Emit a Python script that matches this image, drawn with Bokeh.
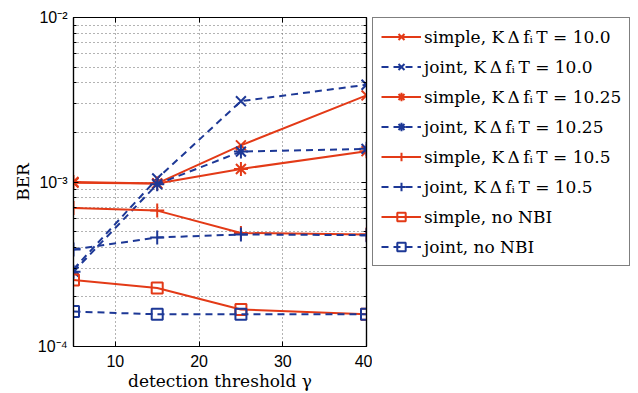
from bokeh.plotting import figure
from bokeh.layouts import row
from bokeh.models import (Legend, LegendItem, LogAxis, LinearAxis, FixedTicker,
                          CustomJSTickFormatter, Range1d)
from bokeh.embed import file_html
from bokeh.resources import INLINE

# ---- data ----
gamma = [5, 15, 25, 40]
simple_100 = [0.99e-3, 0.98e-3, 1.67e-3, 3.36e-3]
joint_100 = [2.95e-4, 1.05e-3, 3.1e-3, 3.9e-3]
simple_1025 = [1.0e-3, 0.98e-3, 1.2e-3, 1.54e-3]
joint_1025 = [2.85e-4, 0.97e-3, 1.53e-3, 1.59e-3]
simple_105 = [6.96e-4, 6.7e-4, 4.9e-4, 4.8e-4]
joint_105 = [3.89e-4, 4.6e-4, 4.8e-4, 4.75e-4]
simple_nonbi = [2.54e-4, 2.27e-4, 1.68e-4, 1.57e-4]
joint_nonbi = [1.63e-4, 1.57e-4, 1.57e-4, 1.57e-4]

x_ticks = [10, 20, 30, 40]
y_major = [1e-4, 1e-3, 1e-2]
y_minor = [m * 10.0 ** e for e in (-4, -3) for m in range(2, 10)]

MATH = "K\u2009\u0394\u2009f\u1d62\u2009T"
labels = ["simple, " + MATH + " = 10.0", "joint, " + MATH + " = 10.0",
          "simple, " + MATH + " = 10.25", "joint, " + MATH + " = 10.25",
          "simple, " + MATH + " = 10.5", "joint, " + MATH + " = 10.5",
          "simple, no NBI", "joint, no NBI"]

RED = "#e33a17"
BLUE = "#1d3896"
SERIF = "DejaVu Serif"
SANS = "Liberation Sans"

p = figure(width=372, height=393, y_axis_type="log",
           x_range=Range1d(5, 40), y_range=Range1d(1e-4, 1e-2),
           output_backend="svg", toolbar_location=None,
           min_border_left=73, min_border_top=17, min_border_bottom=47,
           min_border_right=6)
p.outline_line_color = "black"
p.outline_line_width = 1.2

fmt = CustomJSTickFormatter(code="""
const e = Math.round(Math.log10(tick));
const s = {'-4':'\u207b\u2074','-3':'\u207b\u00b3','-2':'\u207b\u00b2'};
return '10' + s[String(e)];
""")

for ax in (p.xaxis[0], p.yaxis[0]):
    ax.major_tick_in = 5
    ax.major_tick_out = 0
    ax.minor_tick_in = 3
    ax.minor_tick_out = 0
    ax.axis_line_color = "black"
    ax.axis_line_width = 1.2
    ax.major_label_text_font = SANS
    ax.major_label_text_font_size = "16px"
    ax.major_label_text_color = "black"
    ax.axis_label_text_font = SERIF
    ax.axis_label_text_font_style = "normal"
    ax.axis_label_text_font_size = "17px"
    ax.axis_label_text_color = "black"

p.xaxis[0].ticker = FixedTicker(ticks=x_ticks)
p.xaxis[0].minor_tick_in = 0
p.xaxis[0].major_label_standoff = 8
p.xaxis[0].axis_label = "detection threshold \u03b3"
p.xaxis[0].axis_label_standoff = 1
p.yaxis[0].ticker = FixedTicker(ticks=y_major, minor_ticks=y_minor)
p.yaxis[0].formatter = fmt
p.yaxis[0].major_label_standoff = 6
p.yaxis[0].axis_label = "BER"
p.yaxis[0].axis_label_standoff = 2

blank = CustomJSTickFormatter(code="return '';")
top = LinearAxis(ticker=FixedTicker(ticks=x_ticks), formatter=blank,
                 major_tick_in=5, major_tick_out=0, minor_tick_in=0, minor_tick_out=0,
                 axis_line_width=1.2, major_label_text_font_size="1px",
                 major_label_standoff=0)
right = LogAxis(ticker=FixedTicker(ticks=y_major, minor_ticks=y_minor), formatter=blank,
                major_tick_in=5, major_tick_out=0, minor_tick_in=3, minor_tick_out=0,
                axis_line_width=1.2, major_label_text_font_size="1px",
                major_label_standoff=0)
p.add_layout(top, "above")
p.add_layout(right, "right")

p.xgrid.ticker = FixedTicker(ticks=x_ticks)
p.ygrid.ticker = FixedTicker(ticks=y_major, minor_ticks=y_minor)
for g in (p.xgrid[0], p.ygrid[0]):
    g.grid_line_color = "#666666"
    g.grid_line_dash = "1 3"
    g.grid_line_width = 1
p.ygrid.minor_grid_line_color = "#666666"
p.ygrid.minor_grid_line_dash = "1 3"

series = [
    (simple_100, RED, "solid", "x"),
    (joint_100, BLUE, "dashed", "x"),
    (simple_1025, RED, "solid", "asterisk"),
    (joint_1025, BLUE, "dashed", "asterisk"),
    (simple_105, RED, "solid", "cross"),
    (joint_105, BLUE, "dashed", "cross"),
    (simple_nonbi, RED, "solid", "square"),
    (joint_nonbi, BLUE, "dashed", "square"),
]

# legend lives in a second, axis-less figure placed to the right
q = figure(width=266, height=393, x_range=Range1d(1000, 1001), y_range=Range1d(1, 2),
           output_backend="svg", toolbar_location=None,
           x_axis_location=None, y_axis_location=None,
           min_border_left=0, min_border_right=0, min_border_top=0, min_border_bottom=0)
q.outline_line_color = None
q.xgrid.visible = False
q.ygrid.visible = False

items = []
for (ys, col, dash, mk), lab in zip(series, labels):
    ld = "solid" if dash == "solid" else "7 5"
    sz = 11 if mk == "square" else 14
    p.line(gamma, ys, line_color=col, line_width=2, line_dash=ld)
    p.scatter(gamma, ys, marker=mk, size=sz, line_color=col, line_width=2,
              fill_color=None)
    # out-of-view twins used only for legend glyphs
    l2 = q.line(gamma, ys, line_color=col, line_width=2, line_dash=ld)
    s2 = q.scatter(gamma, ys, marker=mk, size=sz - 3, line_color=col, line_width=2,
                   fill_color=None)
    items.append(LegendItem(label=lab, renderers=[l2, s2]))

legend = Legend(items=items, location="top_left", orientation="vertical")
legend.label_text_font = SERIF
legend.label_text_font_size = "17px"
legend.label_text_color = "black"
legend.glyph_width = 40
legend.glyph_height = 21
legend.label_standoff = 3
legend.label_width = 197
legend.label_height = 21
legend.spacing = 9
legend.padding = 8
legend.margin = 0
legend.border_line_color = "black"
legend.border_line_width = 1.2
legend.background_fill_alpha = 1
q.add_layout(legend, "center")

open("out.html", "w").write(file_html(row(p, q), INLINE))
